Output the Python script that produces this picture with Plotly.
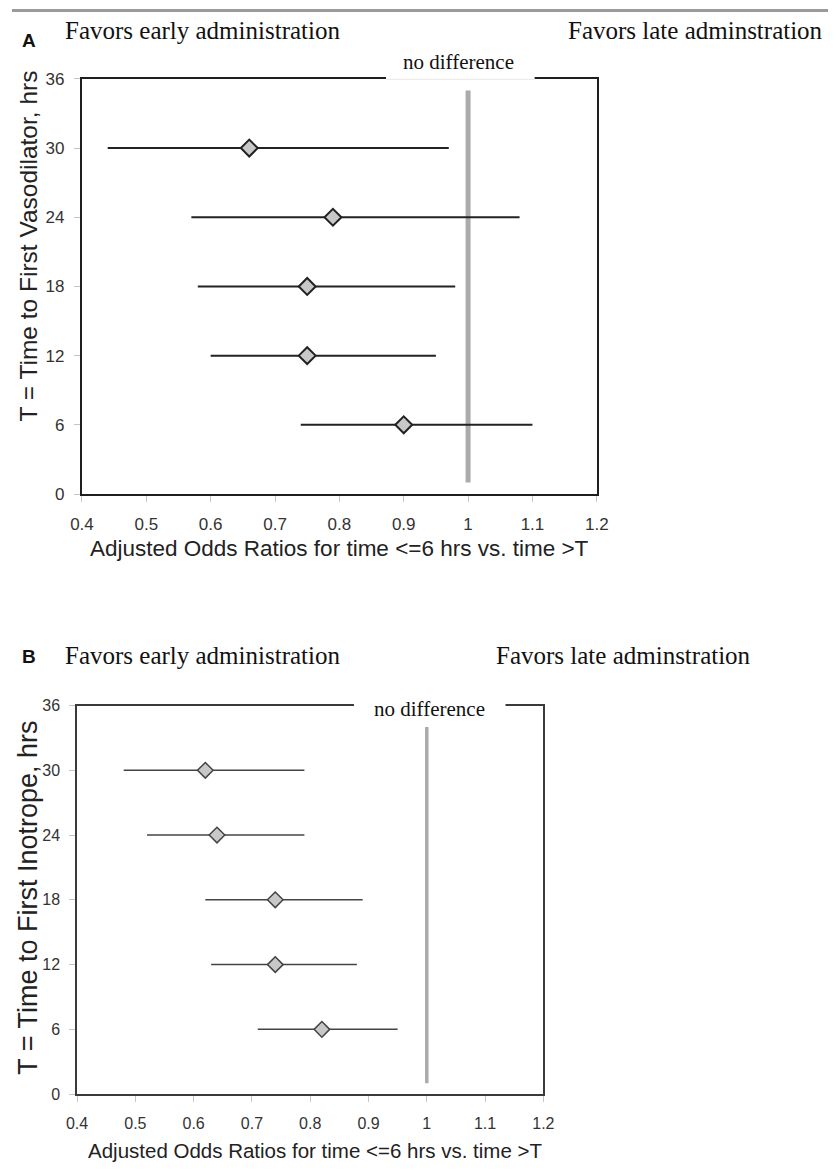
import plotly.graph_objects as go

# ---------------- data ----------------
T_hours = [30, 24, 18, 12, 6]

# Panel A: vasodilator
or_A = [0.66, 0.79, 0.75, 0.75, 0.90]
lo_A = [0.44, 0.57, 0.58, 0.60, 0.74]
hi_A = [0.97, 1.08, 0.98, 0.95, 1.10]

# Panel B: inotrope
or_B = [0.62, 0.64, 0.74, 0.74, 0.82]
lo_B = [0.48, 0.52, 0.62, 0.63, 0.71]
hi_B = [0.79, 0.79, 0.89, 0.88, 0.95]

ref_x = [1, 1]
ref_y_A = [1, 35]
ref_y_B = [1, 34]

x_ticks = [0.4, 0.5, 0.6, 0.7, 0.8, 0.9, 1.0, 1.1, 1.2]
x_ticktext = ["0.4", "0.5", "0.6", "0.7", "0.8", "0.9", "1", "1.1", "1.2"]
y_ticks = [0, 6, 12, 18, 24, 30, 36]

W, H = 840, 1173
def px(x):
    return x / W
def py(y):
    return 1 - y / H

SANS = "Liberation Sans, Arial, sans-serif"
SERIF = "Liberation Serif, Times New Roman, serif"

fig = go.Figure()

# reference lines
fig.add_trace(go.Scatter(x=ref_x, y=ref_y_A, mode="lines",
                         line=dict(color="#ababab", width=5),
                         xaxis="x", yaxis="y", hoverinfo="skip"))
fig.add_trace(go.Scatter(x=ref_x, y=ref_y_B, mode="lines",
                         line=dict(color="#ababab", width=3.5),
                         xaxis="x2", yaxis="y2", hoverinfo="skip"))

# estimates with CIs
fig.add_trace(go.Scatter(
    x=or_A, y=T_hours, mode="markers",
    marker=dict(symbol="diamond", size=13, color="#c8c8c8",
                line=dict(color="#222222", width=2)),
    error_x=dict(type="data", symmetric=False,
                 array=[h - o for h, o in zip(hi_A, or_A)],
                 arrayminus=[o - l for o, l in zip(or_A, lo_A)],
                 width=0, thickness=2, color="#222222"),
    xaxis="x", yaxis="y"))
fig.add_trace(go.Scatter(
    x=or_B, y=T_hours, mode="markers",
    marker=dict(symbol="diamond", size=12, color="#c8c8c8",
                line=dict(color="#444444", width=1.5)),
    error_x=dict(type="data", symmetric=False,
                 array=[h - o for h, o in zip(hi_B, or_B)],
                 arrayminus=[o - l for o, l in zip(or_B, lo_B)],
                 width=0, thickness=1.5, color="#444444"),
    xaxis="x2", yaxis="y2"))

def xax(domain, anchor, lw, lc, fs):
    return dict(domain=domain, anchor=anchor, range=[0.4, 1.2],
                tickvals=x_ticks, ticktext=x_ticktext,
                showline=True, mirror=True, linecolor=lc, linewidth=lw,
                ticks="outside", ticklen=6, tickcolor="#c4c4c4", tickwidth=1,
                showgrid=False, zeroline=False,
                tickfont=dict(family=SANS, size=fs, color="#333333"),
                ticklabelstandoff=8)

def yax(domain, anchor, lw, lc, fs):
    return dict(domain=domain, anchor=anchor, range=[0, 36],
                tickvals=y_ticks,
                showline=True, mirror=True, linecolor=lc, linewidth=lw,
                ticks="outside", ticklen=6, tickcolor="#c4c4c4", tickwidth=1,
                showgrid=False, zeroline=False,
                tickfont=dict(family=SANS, size=fs, color="#333333"),
                ticklabelstandoff=6)

annotations = []
def ann(text, x, y, size, family, xanchor="center", yanchor="middle",
        color="#111111", textangle=0, bold=False):
    if bold:
        text = "<b>" + text + "</b>"
    annotations.append(dict(text=text, x=px(x), y=py(y), xref="paper", yref="paper",
                            xanchor=xanchor, yanchor=yanchor, showarrow=False,
                            textangle=textangle,
                            font=dict(family=family, size=size, color=color)))

# Panel A labels
ann("A", 18, 32, 19, SANS, bold=True)
ann("Favors early administration", 53, 22, 25, SERIF, xanchor="left")
ann("Favors late adminstration", 837, 22, 25, SERIF, xanchor="right")
ann("no difference", 460, 54, 21, SERIF)
ann("Adjusted Odds Ratios for time &lt;=6 hrs vs. time &gt;T", 337, 548, 22.5, SANS, color="#222222")
ann("T = Time to First Vasodilator, hrs", 17, 241, 24.5, SANS, textangle=-90, color="#222222")

# Panel B labels
ann("B", 18, 658, 19, SANS, bold=True)
ann("Favors early administration", 53, 657, 25, SERIF, xanchor="left")
ann("Favors late adminstration", 763, 657, 25, SERIF, xanchor="right")
ann("Adjusted Odds Ratios for time &lt;=6 hrs vs. time &gt;T", 312, 1160, 20.5, SANS, color="#222222")
ann("T = Time to First Inotrope, hrs", 17, 904, 27, SANS, textangle=-90, color="#222222")

shapes = [
    # top page rule
    dict(type="rect", xref="paper", yref="paper", x0=0, x1=1, y0=py(3), y1=1,
         fillcolor="#9a9a9a", line=dict(width=0), layer="above"),
    # gap in top border of panel A
    dict(type="rect", xref="paper", yref="paper", x0=px(385), x1=px(538),
         y0=py(76), y1=py(64), fillcolor="white", line=dict(width=0), layer="above"),
    dict(type="line", xref="paper", yref="paper", x0=px(385), x1=px(538),
         y0=py(71.5), y1=py(71.5), line=dict(color="#e8e8e8", width=1), layer="above"),
    # gap in top border of panel B
    dict(type="rect", xref="paper", yref="paper", x0=px(352), x1=px(508),
         y0=py(714), y1=py(702), fillcolor="white", line=dict(width=0), layer="above"),
]

fig.update_layout(
    width=W, height=H, margin=dict(l=0, r=0, t=0, b=0),
    paper_bgcolor="white", plot_bgcolor="white", showlegend=False,
    xaxis=xax([px(72), px(602)], "y", 2, "#1e1e1e", 17),
    yaxis=yax([py(493), py(71)], "x", 2, "#1e1e1e", 17),
    xaxis2=xax([px(67), px(547)], "y2", 1.5, "#3a3a3a", 16),
    yaxis2=yax([py(1103), py(708)], "x2", 1.5, "#3a3a3a", 16),
    shapes=shapes,
    annotations=annotations,
)
fig.add_annotation(text="no difference", x=px(430), y=py(712), xref="paper", yref="paper",
                   showarrow=False, font=dict(family=SERIF, size=21, color="#111111"))

fig.write_html("out.html", config={"displayModeBar": False},
               post_script="document.body.style.margin='0';document.body.style.overflow='hidden';")
